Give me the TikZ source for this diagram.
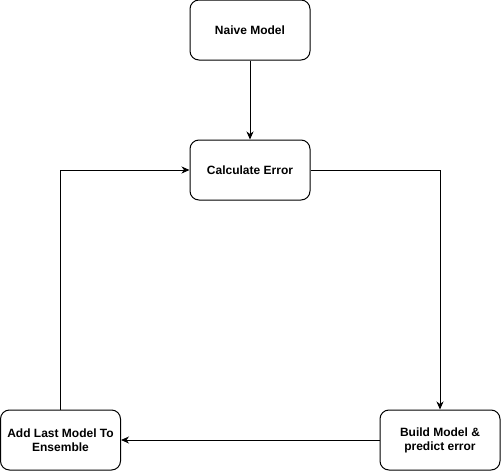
\documentclass[tikz,border=0pt]{standalone}
\usepackage{fontspec}
\setmainfont{Liberation Sans}
\usetikzlibrary{arrows.meta}
\begin{document}
\begin{tikzpicture}[x=1pt,y=-1pt,
  box/.style={draw=black, line width=1pt, rounded corners=9pt, minimum width=120pt, minimum height=60pt, inner sep=0pt, align=center, font=\fontsize{12}{14}\selectfont\bfseries, fill=white},
  conn/.style={draw=black, line width=1pt, -{Stealth[length=8pt,width=7pt,inset=2.5pt]}}]
\useasboundingbox (0,0) rectangle (501,471);
\node[box] (naive) at (250,30) {Naive Model};
\node[box] (calc) at (250,170) {Calculate Error};
\node[box] (add) at (60.5,440) {Add Last Model To\\Ensemble};
\node[box] (build) at (440,440) {Build Model \&\\predict error};
\draw[conn] (naive) -- (calc);
\draw[conn] (calc.east) -| (build.north);
\draw[conn] (build.west) -- (add.east);
\draw[conn] (add.north) |- (calc.west);
\end{tikzpicture}
\end{document}
